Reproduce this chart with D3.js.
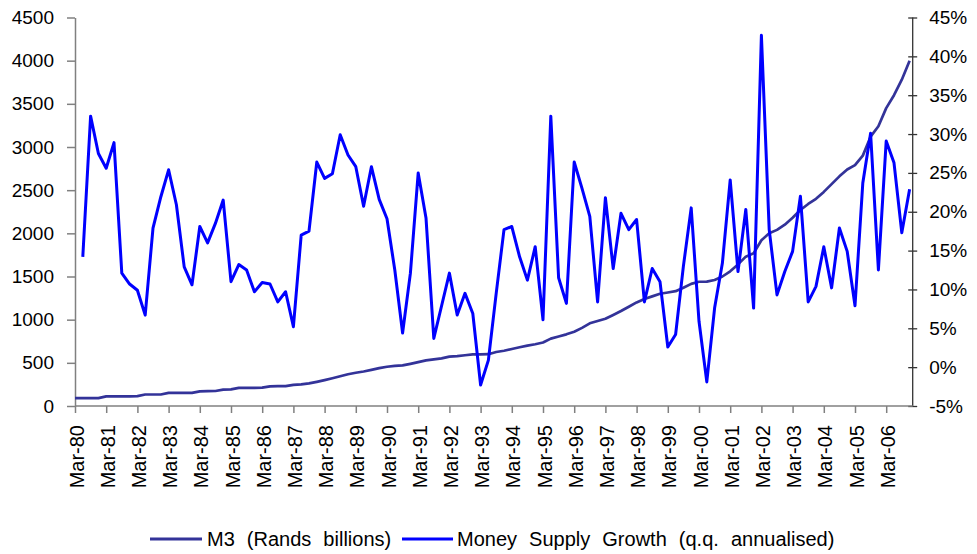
<!DOCTYPE html>
<html>
<head>
<meta charset="utf-8">
<script src="https://cdn.jsdelivr.net/npm/d3@7"></script>
<style>
  html, body { margin: 0; padding: 0; background: #fff; }
  svg { display: block; font-family: "Liberation Sans", Arial, sans-serif; }
</style>
</head>
<body>
<svg id="chart" width="977" height="554"></svg>
<script>
// ---------- DATA ----------
const quarterMonths = ["Mar", "Jun", "Sep", "Dec"];
const years = ["80","81","82","83","84","85","86","87","88","89","90","91","92","93","94","95","96","97","98","99","00","01","02","03","04","05","06"];
const categories = [];
years.forEach(y => quarterMonths.forEach(m => categories.push(m + "-" + y)));

// M3 (Rands billions), left axis
const m3Values = [
  92, 92, 92, 92, 112, 112, 112, 112, 114, 133, 133, 133,
  152, 152, 152, 152, 170, 172, 174, 190, 192, 210, 210, 210,
  212, 228, 230, 230, 245, 250, 262, 280, 300, 322, 345, 368,
  385, 400, 418, 438, 455, 465, 470, 488, 508, 528, 540, 552,
  572, 578, 588, 598, 598, 600, 625, 640, 660, 680, 700, 715,
  735, 780, 805, 830, 860, 905, 958, 985, 1010, 1054, 1100, 1150,
  1200, 1240, 1270, 1300, 1315, 1330, 1370, 1415, 1439, 1440, 1460, 1500,
  1560, 1640, 1730, 1768, 1920, 2000, 2040, 2100, 2180, 2270, 2340, 2400,
  2480, 2570, 2660, 2740, 2790, 2900, 3120, 3240, 3450, 3600, 3780, 4000
];

// Money Supply Growth (q.q. annualised), %, right axis (first quarter has no value)
const growthValues = [
  null, 14.2, 32.3, 27.5, 25.6, 28.9, 12.1, 10.7, 9.9, 6.7, 17.9, 21.9,
  25.4, 20.9, 12.9, 10.6, 18.1, 16.0, 18.5, 21.5, 11.0, 13.2, 12.5, 9.7,
  10.9, 10.7, 8.4, 9.7, 5.2, 17.0, 17.5, 26.4, 24.3, 24.9, 29.9, 27.3,
  25.8, 20.7, 25.8, 21.6, 19.1, 12.5, 4.4, 12.1, 25.0, 19.2, 3.7, 7.9,
  12.1, 6.7, 9.5, 6.9, -2.3, 0.9, 9.5, 17.7, 18.1, 14.2, 11.2, 15.5,
  6.1, 32.3, 11.5, 8.2, 26.4, 23.0, 19.4, 8.4, 21.8, 12.7, 19.8, 17.7,
  19.0, 8.4, 12.7, 11.0, 2.6, 4.2, 13.0, 20.5, 5.9, -1.9, 7.6, 13.4,
  24.1, 12.3, 20.3, 7.6, 42.7, 17.7, 9.3, 12.3, 14.9, 22.0, 8.4, 10.4,
  15.5, 10.2, 17.9, 14.9, 7.9, 23.7, 30.1, 12.5, 29.1, 26.3, 17.3, 22.9
];

const leftTicks = [0, 500, 1000, 1500, 2000, 2500, 3000, 3500, 4000, 4500];
const rightTicks = [-5, 0, 5, 10, 15, 20, 25, 30, 35, 40, 45];
const xTickLabels = ["Mar-80","Mar-81","Mar-82","Mar-83","Mar-84","Mar-85","Mar-86","Mar-87","Mar-88","Mar-89","Mar-90","Mar-91","Mar-92","Mar-93","Mar-94","Mar-95","Mar-96","Mar-97","Mar-98","Mar-99","Mar-00","Mar-01","Mar-02","Mar-03","Mar-04","Mar-05","Mar-06"];
const seriesNames = ["M3 (Rands billions)", "Money Supply Growth (q.q. annualised)"];
const seriesColors = ["#333399", "#0000FF"];

// ---------- LAYOUT ----------
const svg = d3.select("#chart");
const plotLeft = 75, plotRight = 912.7, plotTop = 17.5, plotBottom = 406;
const step = 7.8;

const x = d3.scaleLinear().domain([0, categories.length - 1])
  .range([plotLeft, plotLeft + (categories.length - 1) * step]);
const yL = d3.scaleLinear().domain([0, 4500]).range([plotBottom, plotTop]);
const yR = d3.scaleLinear().domain([-5, 45]).range([plotBottom, plotTop]);

const fontSize = 19;
const labelSize = 20;
const axisColor = "#808080";
const ff = "Liberation Sans, Arial, sans-serif";

// Left axis
const gL = svg.append("g").attr("transform", `translate(${plotLeft},0)`)
  .call(d3.axisLeft(yL).tickValues(leftTicks).tickSize(8).tickSizeOuter(0).tickPadding(13).tickFormat(d3.format("d")));
gL.selectAll("text").attr("font-size", fontSize).attr("fill", "#000").attr("font-family", ff);
gL.select(".domain").attr("stroke", axisColor).attr("stroke-width", 1.5);
gL.selectAll(".tick line").attr("stroke", axisColor).attr("stroke-width", 1.5);

// Right axis (ticks cross the axis)
const gR = svg.append("g").attr("transform", `translate(${plotRight - 4.5},0)`)
  .call(d3.axisRight(yR).tickValues(rightTicks).tickSize(9).tickSizeOuter(0).tickPadding(12).tickFormat(d => d + "%"));
gR.select(".domain").remove();
gR.selectAll("text").attr("font-size", fontSize).attr("fill", "#000").attr("font-family", ff);
gR.selectAll(".tick line").attr("stroke", "#333").attr("stroke-width", 1.3);
svg.append("line").attr("x1", plotRight).attr("x2", plotRight).attr("y1", yR(45)).attr("y2", yR(-5))
  .attr("stroke", "#333").attr("stroke-width", 1.3);

// Bottom axis
const tickIdx = xTickLabels.map((_, i) => i * 4);
const gB = svg.append("g").attr("transform", `translate(0,${plotBottom})`)
  .call(d3.axisBottom(x).tickValues(tickIdx).tickSize(7).tickSizeOuter(0).tickFormat((d, i) => xTickLabels[i]));
gB.select(".domain").remove();
gB.selectAll(".tick line").attr("stroke", axisColor).attr("stroke-width", 1.5);
gB.selectAll("text")
  .attr("font-size", labelSize).attr("fill", "#000").attr("font-family", ff)
  .attr("transform", "rotate(-90)")
  .attr("text-anchor", "end")
  .attr("x", -19).attr("y", 1).attr("dy", "0.35em").attr("dx", 0);
svg.append("line").attr("x1", plotLeft).attr("x2", plotRight).attr("y1", plotBottom).attr("y2", plotBottom)
  .attr("stroke", axisColor).attr("stroke-width", 1.5);

// Lines
const lineM3 = d3.line().x((d, i) => x(i)).y(d => yL(d));
svg.append("path").datum(m3Values).attr("d", lineM3)
  .attr("fill", "none").attr("stroke", seriesColors[0]).attr("stroke-width", 2.7).attr("stroke-linejoin", "round");

const lineG = d3.line().defined(d => d !== null).x((d, i) => x(i)).y(d => yR(d));
svg.append("path").datum(growthValues).attr("d", lineG)
  .attr("fill", "none").attr("stroke", seriesColors[1]).attr("stroke-width", 3).attr("stroke-linejoin", "round");

// Legend
const legY = 539;
const legend = [
  { x1: 150, x2: 202, tx: 207 },
  { x1: 402, x2: 453, tx: 457 }
];
legend.forEach((L, i) => {
  svg.append("line").attr("x1", L.x1).attr("x2", L.x2).attr("y1", legY).attr("y2", legY)
    .attr("stroke", seriesColors[i]).attr("stroke-width", 3);
  svg.append("text").attr("x", L.tx).attr("y", legY).attr("dy", "0.35em")
    .attr("font-size", labelSize).attr("fill", "#000").attr("font-family", ff)
    .attr("word-spacing", 6.5)
    .text(seriesNames[i]);
});
</script>
</body>
</html>
